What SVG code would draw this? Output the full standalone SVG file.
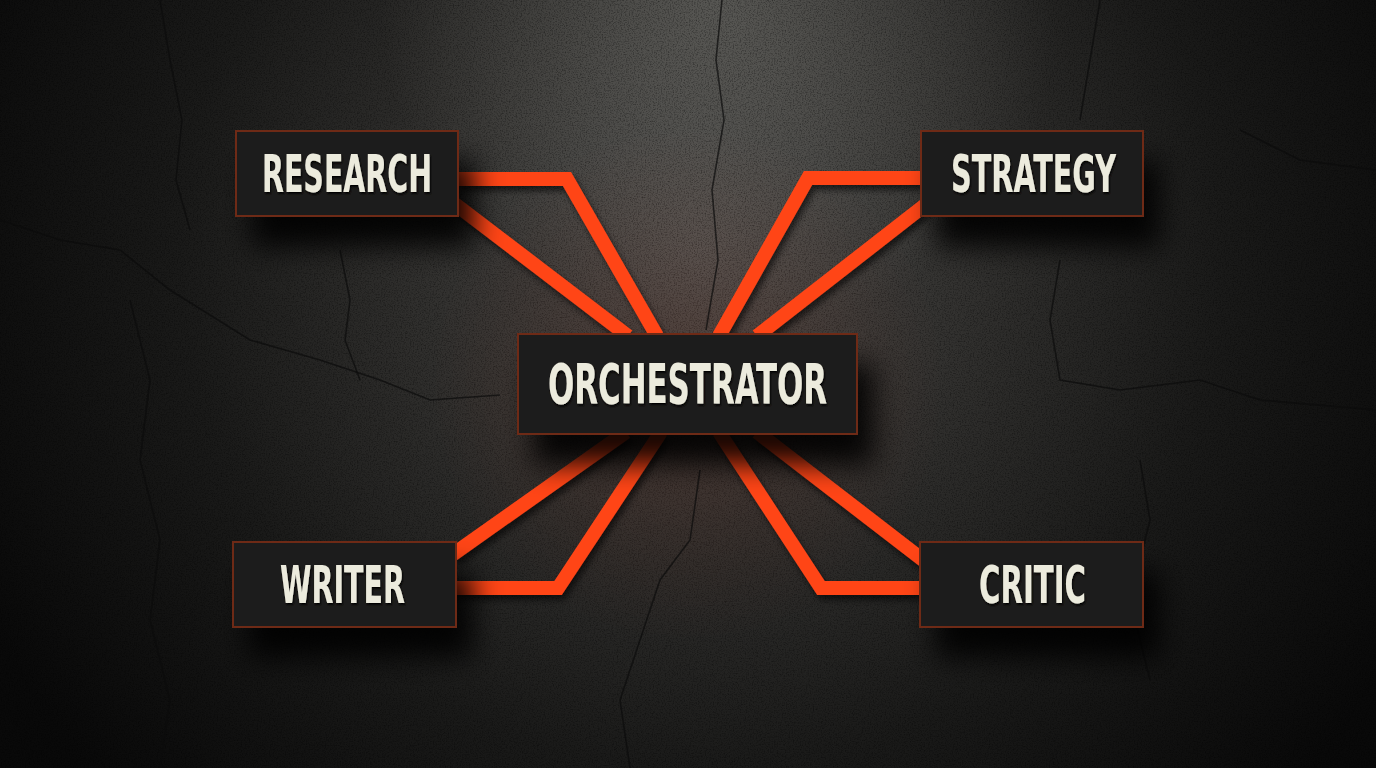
<svg xmlns="http://www.w3.org/2000/svg" width="1376" height="768" viewBox="0 0 1376 768">
  <defs>
    <radialGradient id="bg" cx="700" cy="250" r="800" gradientUnits="userSpaceOnUse">
      <stop offset="0" stop-color="#4a4947"/>
      <stop offset="0.32" stop-color="#333230"/>
      <stop offset="0.65" stop-color="#1a1a19"/>
      <stop offset="1" stop-color="#090909"/>
    </radialGradient>
    <radialGradient id="topglow" cx="720" cy="0" r="340" gradientUnits="userSpaceOnUse">
      <stop offset="0" stop-color="#9a9a94" stop-opacity="0.35"/>
      <stop offset="1" stop-color="#9a9a94" stop-opacity="0"/>
    </radialGradient>
    <radialGradient id="redglow" cx="688" cy="384" r="260" gradientUnits="userSpaceOnUse">
      <stop offset="0" stop-color="#ff3a10" stop-opacity="0.08"/>
      <stop offset="1" stop-color="#ff3a10" stop-opacity="0"/>
    </radialGradient>
    <filter id="noise" x="0" y="0" width="100%" height="100%">
      <feTurbulence type="fractalNoise" baseFrequency="0.75" numOctaves="3" seed="4"/>
      <feColorMatrix type="matrix" values="0 0 0 0 0  0 0 0 0 0  0 0 0 0 0  0 0 0 1.6 -0.7"/>
    </filter>
    <filter id="shadow" x="-30%" y="-30%" width="170%" height="200%">
      <feDropShadow dx="16" dy="30" stdDeviation="14" flood-color="#000" flood-opacity="0.9"/>
    </filter>
    <filter id="lineshadow" x="-20%" y="-20%" width="140%" height="140%">
      <feDropShadow dx="3" dy="5" stdDeviation="3" flood-color="#000" flood-opacity="0.6"/>
    </filter>
    <filter id="textshadow" x="-10%" y="-20%" width="120%" height="150%">
      <feDropShadow dx="1" dy="2" stdDeviation="1" flood-color="#000" flood-opacity="0.9"/>
    </filter>
  </defs>
  <style>
    .conn { fill: none; stroke: #ff4517; stroke-width: 14; stroke-linejoin: miter; stroke-linecap: butt; }
    .box { fill: #1d1c1b; stroke: #6e2a18; stroke-width: 2; }
    .lbl { font-family: "DejaVu Sans Condensed", "Liberation Sans", sans-serif; font-weight: bold; fill: #ecebdd; text-anchor: start; }
    .crack { fill: none; stroke: #0b0b0b; stroke-width: 1.6; opacity: 0.7; }
  </style>

  <!-- background -->
  <rect x="0" y="0" width="1376" height="768" fill="url(#bg)"/>
  <rect x="0" y="0" width="1376" height="768" fill="url(#topglow)"/>
  <rect x="0" y="0" width="1376" height="768" filter="url(#noise)" opacity="0.55"/>
  <rect x="0" y="0" width="1376" height="768" fill="url(#redglow)"/>

  <g id="cracks">
    <path class="crack" d="M722,0 L716,60 L724,120 L712,190 L718,260 L706,330"/>
    <path class="crack" d="M160,0 L170,60 L182,120 L176,180 L190,230"/>
    <path class="crack" d="M0,220 L60,240 L120,250 L170,290 L250,340 L320,360 L380,380 L430,400 L500,395"/>
    <path class="crack" d="M340,250 L350,300 L345,340 L360,380"/>
    <path class="crack" d="M130,300 L150,380 L140,460 L160,540 L150,620 L170,700 L160,768"/>
    <path class="crack" d="M1100,0 L1090,60 L1080,120"/>
    <path class="crack" d="M1060,260 L1050,320 L1060,380 L1120,390 L1200,380 L1260,400 L1376,410"/>
    <path class="crack" d="M1240,130 L1300,160 L1376,170"/>
    <path class="crack" d="M700,470 L690,540 L660,580 L640,640 L620,700 L630,768"/>
    <path class="crack" d="M1140,460 L1150,520 L1130,600 L1150,680"/>
  </g>

  <!-- connectors -->
  <g id="connectors" filter="url(#lineshadow)">
    <polyline class="conn" points="455,179 567,179 657,336"/>
    <line class="conn" x1="455" y1="204" x2="628" y2="336"/>
    <polyline class="conn" points="925,178 808,178 719,336"/>
    <line class="conn" x1="925" y1="205" x2="757" y2="336"/>
    <line class="conn" x1="626" y1="432" x2="452" y2="555"/>
    <polyline class="conn" points="661,432 558,588 452,588"/>
    <polyline class="conn" points="719,432 821,588 923,588"/>
    <line class="conn" x1="757" y1="432" x2="923" y2="560"/>
  </g>

  <!-- nodes -->
  <g id="node-research" filter="url(#shadow)">
    <rect class="box" x="236" y="131" width="222" height="85"/>
    <text class="lbl" x="262" y="192" font-size="51" textLength="170" lengthAdjust="spacingAndGlyphs" filter="url(#textshadow)">RESEARCH</text>
  </g>
  <g id="node-strategy" filter="url(#shadow)">
    <rect class="box" x="921" y="131" width="222" height="85"/>
    <text class="lbl" x="951" y="192" font-size="51" textLength="165" lengthAdjust="spacingAndGlyphs" filter="url(#textshadow)">STRATEGY</text>
  </g>
  <g id="node-orchestrator" filter="url(#shadow)">
    <rect class="box" x="518" y="334" width="339" height="100"/>
    <text class="lbl" x="548" y="403" font-size="56" textLength="279" lengthAdjust="spacingAndGlyphs" filter="url(#textshadow)">ORCHESTRATOR</text>
  </g>
  <g id="node-writer" filter="url(#shadow)">
    <rect class="box" x="233" y="542" width="223" height="85"/>
    <text class="lbl" x="280" y="603" font-size="51" textLength="125" lengthAdjust="spacingAndGlyphs" filter="url(#textshadow)">WRITER</text>
  </g>
  <g id="node-critic" filter="url(#shadow)">
    <rect class="box" x="920" y="542" width="223" height="85"/>
    <text class="lbl" x="979" y="603" font-size="51" textLength="107" lengthAdjust="spacingAndGlyphs" filter="url(#textshadow)">CRITIC</text>
  </g>
</svg>
